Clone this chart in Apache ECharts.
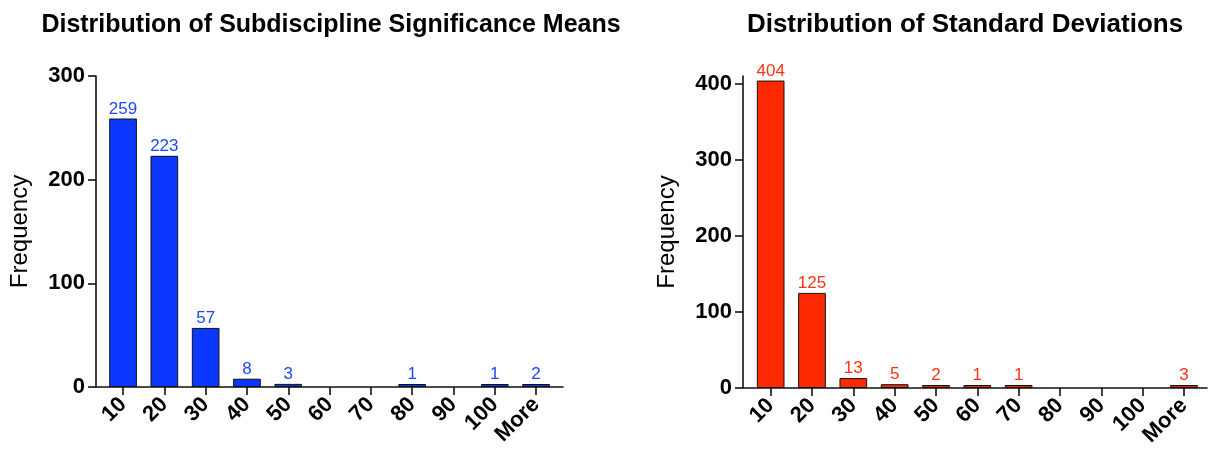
<!DOCTYPE html>
<html>
<head>
<meta charset="utf-8">
<script src="https://cdn.jsdelivr.net/npm/echarts@6/dist/echarts.min.js"></script>
<style>
html,body{margin:0;padding:0;background:#fff;}
#c{width:1208px;height:451px;}
</style>
</head>
<body>
<div id="c"></div>
<script>
const categories = ['10','20','30','40','50','60','70','80','90','100','More'];
const meanFreq = [259,223,57,8,3,0,0,1,0,1,2];
const sdFreq = [404,125,13,5,2,1,1,0,0,0,3];
const meanTicks = [0,100,200,300];
const sdTicks = [0,100,200,300,400];
const titles = ['Distribution of Subdiscipline Significance Means','Distribution of Standard Deviations'];

const FONT = '"Liberation Sans", Arial, Helvetica, sans-serif';
const BLUE = '#0b38ff', BLUE_LBL = '#1e47ff';
const RED = '#ff2900', RED_LBL = '#ff3312';
const AX = {lineStyle:{color:'#111',width:1.6}};

function yAxisDef(gi, max, ticks, offset){
  return {
    type:'value', gridIndex:gi, min:0, max:max, offset:offset,
    splitLine:{show:false},
    axisLine:{show:true, ...AX},
    axisTick:{show:true, length:8, lineStyle:{color:'#111',width:1.6}, customValues:ticks},
    axisLabel:{color:'#000', fontFamily:FONT, fontWeight:'bold', fontSize:22, margin:11, customValues:ticks},
    name:'Frequency', nameLocation:'middle', nameGap:64, nameRotate:90,
    nameTextStyle:{color:'#000', fontFamily:FONT, fontSize:24}
  };
}
function xAxisDef(gi){
  return {
    type:'category', gridIndex:gi, data:categories,
    axisLine:{show:false},
    axisTick:{show:true, alignWithLabel:true, length:8, lineStyle:{color:'#111',width:1.6}},
    axisLabel:{interval:0, rotate:45, color:'#000', fontFamily:FONT, fontWeight:'bold', fontSize:22, margin:14}
  };
}
function lineAxis(gi){
  return {type:'value', gridIndex:gi, min:0, max:1, axisLine:{show:true, ...AX}, axisTick:{show:false}, axisLabel:{show:false}, splitLine:{show:false}};
}
function hiddenY(gi){
  return {type:'value', gridIndex:gi, show:false, min:0, max:1};
}
function barSeries(gi, values, color, lblColor){
  return {
    type:'bar', xAxisIndex:gi, yAxisIndex:gi,
    data:values.map(v => v === 0 ? '-' : v),
    barWidth:'67%', barMinHeight:3,
    itemStyle:{color:color, borderColor:'#111', borderWidth:1},
    label:{show:true, position:'top', distance:1, color:lblColor, fontFamily:FONT, fontSize:17,
      formatter:p => (typeof p.value === 'number' && p.value) ? String(p.value) : ''},
    animation:false
  };
}

const option = {
  backgroundColor:'#fff',
  animation:false,
  title:[
    {text:titles[0], left:326, top:8, textAlign:'center', textStyle:{fontFamily:FONT, fontWeight:'bold', fontSize:25, color:'#000'}},
    {text:titles[1], left:960, top:7, textAlign:'center', textStyle:{fontFamily:FONT, fontWeight:'bold', fontSize:26, color:'#000'}}
  ],
  grid:[
    {left:102.4, right:651.3, top:76, bottom:64},
    {left:750, right:3.4, top:76, bottom:63},
    {left:96, right:645, top:76, bottom:64},
    {left:743, right:1, top:76, bottom:63}
  ],
  xAxis:[xAxisDef(0), xAxisDef(1), lineAxis(2), lineAxis(3)],
  yAxis:[yAxisDef(0,300,meanTicks,6.4), yAxisDef(1,410,sdTicks,7), hiddenY(2), hiddenY(3)],
  series:[
    barSeries(0, meanFreq, BLUE, BLUE_LBL),
    barSeries(1, sdFreq, RED, RED_LBL)
  ]
};
const chart = echarts.init(document.getElementById('c'), null, {renderer:'canvas'});
chart.setOption(option);
</script>
</body>
</html>
